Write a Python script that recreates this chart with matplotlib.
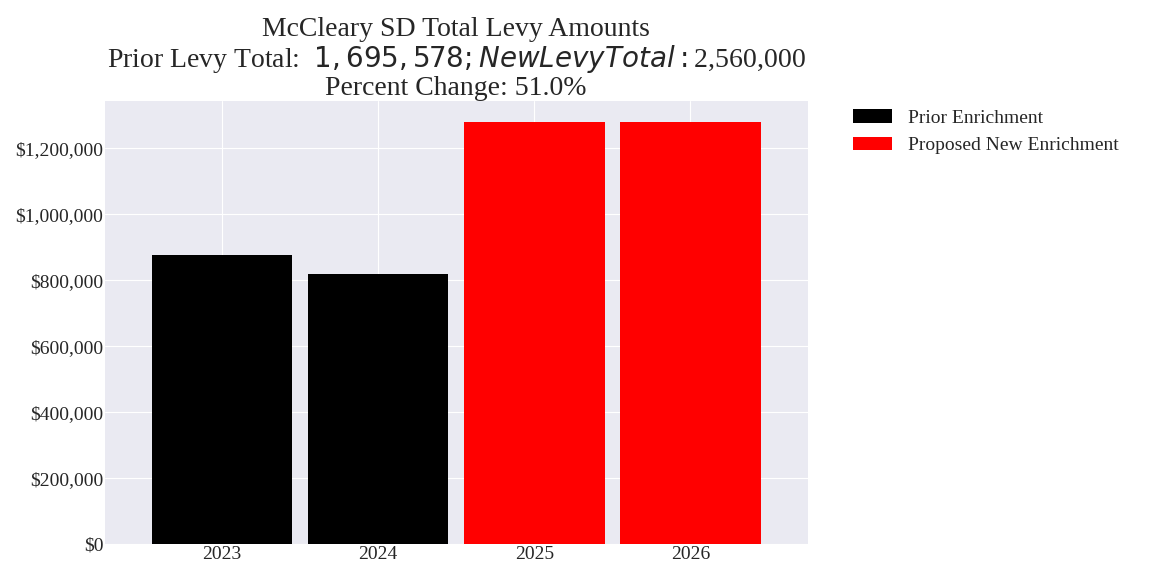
import matplotlib
matplotlib.use("Agg")
import matplotlib.pyplot as plt
from matplotlib.ticker import FuncFormatter

years = ["2023", "2024", "2025", "2026"]
prior = [876000, 819578]
new = [1280000, 1280000]

plt.style.use("seaborn-v0_8-darkgrid")
plt.rcParams['font.family'] = ['Liberation Serif', 'DejaVu Serif']

fig = plt.figure(figsize=(11.52, 5.76), dpi=100)
ax = fig.add_axes([0.091, 0.055, 0.61, 0.77])
ax.bar([0, 1], prior, width=0.9, color="black", label="Prior Enrichment")
ax.bar([2, 3], new, width=0.9, color="red", label="Proposed New Enrichment")
ax.set_xticks(range(4))
ax.set_xticklabels(years)
ax.set_xlim(-0.75, 3.75)
ax.set_ylim(0, 1344000)
ax.yaxis.set_major_formatter(FuncFormatter(lambda v, p: f"${v:,.0f}"))
ax.tick_params(labelsize=14, pad=1)
ax.set_title("McCleary SD Total Levy Amounts\nPrior Levy Total:  $1,695,578; New Levy Total: $2,560,000\nPercent Change: 51.0%",
             fontsize=20, linespacing=1.05, pad=2)
ax.legend(loc="upper left", bbox_to_anchor=(1.04, 1.02), fontsize=14, frameon=False)
fig.savefig("out.png", dpi=100)
